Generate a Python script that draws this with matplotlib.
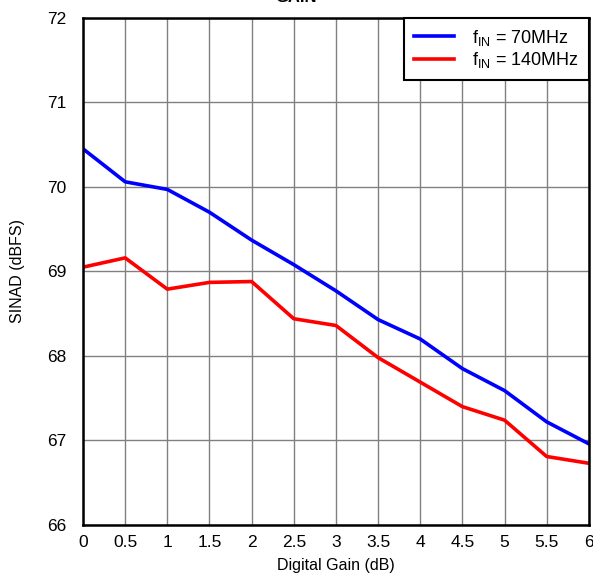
import matplotlib.pyplot as plt

plt.rcParams['font.family'] = ['Liberation Sans', 'DejaVu Sans']

# digital gain (dB) and SINAD (dBFS) for two input frequencies
gain = [0, 0.5, 1, 1.5, 2, 2.5, 3, 3.5, 4, 4.5, 5, 5.5, 6]
sinad_70 = [70.45, 70.06, 69.97, 69.70, 69.37, 69.08, 68.77, 68.43, 68.20, 67.85, 67.59, 67.22, 66.96]
sinad_140 = [69.05, 69.16, 68.79, 68.87, 68.88, 68.44, 68.36, 67.98, 67.69, 67.40, 67.24, 66.81, 66.73]
xticks = [0, 0.5, 1, 1.5, 2, 2.5, 3, 3.5, 4, 4.5, 5, 5.5, 6]
yticks = [66, 67, 68, 69, 70, 71, 72]

fig = plt.figure(figsize=(5.93, 5.75), dpi=100)
ax = fig.add_axes([0.140, 0.087, 0.853, 0.882])

ax.plot(gain, sinad_70, color='#0000ff', lw=2.6, label='f$_{\\mathregular{IN}}$ = 70MHz')
ax.plot(gain, sinad_140, color='#ff0000', lw=2.6, label='f$_{\\mathregular{IN}}$ = 140MHz')

ax.set_xlim(0, 6)
ax.set_ylim(66, 72)
ax.set_xticks(xticks)
ax.set_xticklabels([f'{t:g}' for t in xticks])
ax.set_yticks(yticks)
ax.tick_params(length=0, labelsize=12.5)
ax.tick_params(axis='y', pad=12)
ax.tick_params(axis='x', pad=7)
ax.grid(True, color='#808080', lw=1)
for s in ax.spines.values():
    s.set_linewidth(1.8)
    s.set_zorder(5)

ax.set_xlabel('Digital Gain (dB)', fontsize=11.5, labelpad=6)
ax.set_ylabel('SINAD (dBFS)', fontsize=11.5, labelpad=16)

leg = ax.legend(loc='upper right', fontsize=13, frameon=True, fancybox=False,
                borderaxespad=0, handlelength=2.2, handletextpad=1.0,
                borderpad=0.55, labelspacing=0.15)
leg.get_frame().set_edgecolor('black')
leg.get_frame().set_linewidth(1.5)
leg.get_frame().set_alpha(1)

# title is clipped by the top edge in the original
fig.text(0.50, 1.005, 'GAIN', ha='center', va='center', fontsize=12, fontweight='bold')

fig.savefig('out.png', dpi=100)
